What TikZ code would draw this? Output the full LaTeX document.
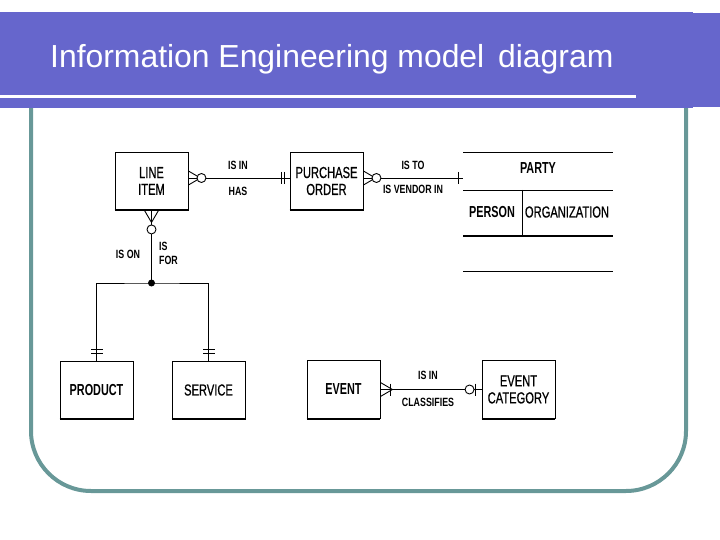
\documentclass[tikz,border=0pt]{standalone}
\usepackage{fontspec}
\setmainfont{Liberation Sans}
\newfontfamily\erfont[FakeStretch=0.7,FakeBold=0.6]{Liberation Sans}
\newfontfamily\erfontb[FakeStretch=0.68]{Liberation Sans Bold}
\newfontfamily\labfont[FakeStretch=0.74]{Liberation Sans Bold}
\usetikzlibrary{calc}
\definecolor{bandblue}{RGB}{102,102,204}
\definecolor{frameteal}{RGB}{104,152,152}
\begin{document}
\begin{tikzpicture}[x=1bp,y=-1bp,
  ln/.style={line width=0.9bp},
  ent/.style={draw, line width=0.9bp, minimum width=73bp, minimum height=58bp, inner sep=0pt, align=center, font=\erfont\fontsize{16}{17}\selectfont},
  entb/.style={ent, font=\erfontb\fontsize{16}{17}\selectfont},
  lab/.style={inner sep=0pt, font=\labfont\fontsize{12}{14}\selectfont},
  ptxt/.style={inner sep=0pt, font=\erfont\fontsize{16}{17}\selectfont},
  ptxtb/.style={inner sep=0pt, font=\erfontb\fontsize{16}{17}\selectfont},
  pics/crow/.style={code={\draw[line width=0.9bp] (0,-7)--(12,0)--(0,7);}},
  pics/onebar/.style={code={\draw[line width=0.9bp] (0,-6)--(0,6);}},
  pics/circ/.style={code={\draw[line width=0.9bp,fill=white] (0,0) circle (4.5);}},
]
\useasboundingbox (0,0) rectangle (720,540);
% frame
\draw[frameteal, line width=4bp, rounded corners=60bp] (31,100) -- (31,491) -- (686,491) -- (686,100);
% header band
\fill[bandblue] (0,12) rectangle (693,108);
\fill[bandblue] (693,13) rectangle (720,107);
\fill[white] (0,95) rectangle (636,98);
\node[anchor=base west, inner sep=0pt, text=white, font=\fontsize{32}{36}\selectfont] (title) at (50,68) {Information Engineering model\hspace{5bp} diagram};

% entities
\node[ent]  (li)   at (151.5,181) {LINE\\ITEM};
\node[ent]  (po)   at (326.5,181) {PURCHASE\\ORDER};
\node[entb] (prod) at (96.5,390) {PRODUCT};
\node[ent]  (serv) at (208.5,390) {SERVICE};
\node[entb] (ev)   at (343.5,389.5) {EVENT};
\node[ent]  (ec)   at (518.5,389.5) {EVENT\\CATEGORY};
\foreach \n in {li,po,prod,serv,ev,ec}{
  \draw[line width=2bp] (\n.south west) -- (\n.south east);
}

% PARTY
\coordinate (pa1) at (463,152);
\coordinate (pa2) at (613,152);
\coordinate (pb1) at (463,190);
\coordinate (pb2) at (613,190);
\coordinate (pc1) at (463,236);
\coordinate (pc2) at (613,236);
\coordinate (pd1) at (463,271);
\coordinate (pd2) at (613,271);
\coordinate (pdv) at (522,190);
\coordinate (pdw) at (522,236);
\draw[ln] (pa1) -- (pa2);
\draw[ln] (pb1) -- (pb2);
\draw[line width=2bp] (pc1) -- (pc2);
\draw[ln] (pd1) -- (pd2);
\draw[ln] (pdv) -- (pdw);
\node[ptxtb] (party) at (538,168) {PARTY};
\node[ptxtb] (person) at (492,212) {PERSON};
\node[ptxt] (org) at (567,212) {ORGANIZATION};

% LINE ITEM -- PURCHASE ORDER
\coordinate (a1) at ($(li.east)+(0,-3)$);
\coordinate (a2) at ($(po.west)+(0,-3)$);
\draw[ln] (a1) -- (a2);
\pic at (a1) {crow};
\pic at ($(a1)+(13,0)$) {circ};
\pic at ($(a2)+(-8,0)$) {onebar};
\pic at ($(a2)+(-5,0)$) {onebar};
\node[lab] (isin1) at (238,165) {IS IN};
\node[lab] (has) at (238,191) {HAS};

% PURCHASE ORDER -- PARTY
\coordinate (b1) at ($(po.east)+(0,-3)$);
\coordinate (b2) at (463,178);
\draw[ln] (b1) -- (b2);
\pic at (b1) {crow};
\pic at ($(b1)+(13,0)$) {circ};
\pic at ($(b2)+(-5,0)$) {onebar};
\node[lab] (isto) at (413,165) {IS TO};
\node[lab] (isv) at (413,189) {IS VENDOR IN};

% LINE ITEM -- PRODUCT / SERVICE
\coordinate (j) at (151.5,283);
\draw[ln] (li.south) -- (j);
\pic[rotate=-90] at (li.south) {crow};
\pic at ($(li.south)+(0,19)$) {circ};
\fill (j) circle (3.5);
\draw[ln] (prod.north) |- (j) -| (serv.north);
\pic[rotate=-90] at ($(prod.north)+(0,-11)$) {onebar};
\pic[rotate=-90] at ($(prod.north)+(0,-7)$) {onebar};
\pic[rotate=-90] at ($(serv.north)+(0,-11)$) {onebar};
\pic[rotate=-90] at ($(serv.north)+(0,-7)$) {onebar};
\node[lab] (ison) at (128,254) {IS ON};
\node[lab, anchor=west, align=left] (isfor) at (159,253) {IS\\FOR};

% EVENT -- EVENT CATEGORY
\draw[ln] (ev.east) -- (ec.west);
\pic at (ev.east) {crow};
\pic at ($(ev.east)+(10,0)$) {onebar};
\pic at ($(ec.west)+(-12,0)$) {circ};
\pic at ($(ec.west)+(-6,0)$) {onebar};
\node[lab] (isin2) at (428,375) {IS IN};
\node[lab] (cls) at (428,402) {CLASSIFIES};
\end{tikzpicture}
\end{document}
